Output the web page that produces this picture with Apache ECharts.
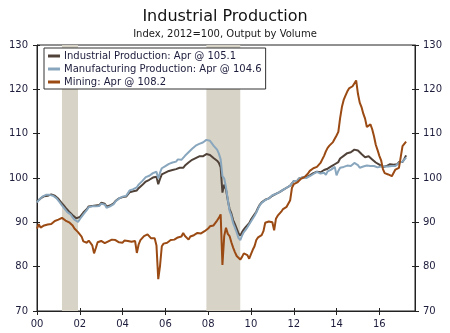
<!DOCTYPE html>
<html>
<head>
<meta charset="utf-8">
<script src="https://cdn.jsdelivr.net/npm/echarts@6/dist/echarts.min.js"></script>
<style>
  html, body { margin: 0; padding: 0; background: #ffffff; }
  #chart { width: 450px; height: 333px; }
</style>
</head>
<body>
<div id="chart"></div>
<script>
// Monthly index values, Jan 2000 through Apr 2017 (2012 = 100)
const industrialProduction = [
  94.7, 95.1, 95.4, 95.8, 95.9, 96.1, 96.0, 96.2, 96.3, 96.1, 96.0, 95.7,
  95.3, 94.8, 94.3, 93.8, 93.3, 92.9, 92.4, 92.2, 91.6, 91.2, 90.9, 90.7,
  91.2, 91.5, 92.2, 92.6, 93.0, 93.6, 93.5, 93.7, 93.9, 93.8, 94.1, 93.9,
  94.4, 94.5, 94.2, 93.6, 93.7, 93.8, 94.2, 94.3, 94.8, 95.0, 95.4, 95.4,
  95.7, 96.0, 95.8, 96.3, 96.8, 96.5, 97.0, 97.3, 97.2, 97.7, 97.9, 98.4,
  98.8, 99.2, 99.4, 99.6, 99.8, 100.1, 100.0, 100.3, 98.6, 99.8, 100.8, 101.2,
  101.2, 101.3, 101.6, 101.9, 101.8, 102.1, 102.0, 102.4, 102.3, 102.2, 102.3, 102.8,
  103.0, 103.5, 103.7, 104.1, 104.2, 104.5, 104.8, 104.9, 105.1, 104.9, 105.3, 105.4,
  105.4, 105.2, 105.0, 104.5, 104.2, 103.9, 103.4, 102.4, 96.7, 98.5, 97.4, 95.0,
  93.0, 92.0, 90.5, 89.6, 88.6, 87.5, 87.0, 87.8, 88.4, 88.9, 89.3, 89.8,
  90.6, 91.0, 91.8, 92.4, 93.3, 94.0, 94.5, 94.8, 95.1, 95.2, 95.4, 95.8,
  96.0, 95.9, 96.4, 96.4, 96.8, 97.0, 97.3, 97.6, 97.8, 98.1, 98.3, 98.7,
  99.3, 99.6, 99.4, 99.9, 100.0, 100.1, 100.3, 100.2, 100.3, 100.6, 100.8, 101.1,
  101.1, 101.4, 101.5, 101.3, 101.6, 101.8, 101.7, 102.1, 102.4, 102.6, 102.8, 103.1,
  102.7, 103.6, 104.4, 104.8, 105.0, 105.3, 105.6, 105.5, 105.8, 106.0, 106.4, 106.7,
  106.2, 105.8, 105.4, 105.0, 104.7, 104.6, 104.9, 104.6, 104.2, 103.9, 103.5, 103.2,
  103.0, 102.8, 102.5, 102.7, 102.7, 102.9, 103.1, 102.9, 103.0, 102.9, 103.1, 103.6,
  103.8, 103.6, 104.3, 105.1
];

const manufacturingProduction = [
  94.5, 95.0, 95.4, 95.8, 96.0, 96.2, 96.0, 96.2, 96.3, 96.0, 95.8, 95.4,
  94.9, 94.4, 93.8, 93.3, 92.8, 92.3, 91.9, 91.7, 91.1, 90.6, 90.3, 90.1,
  90.7, 91.1, 91.8, 92.3, 92.8, 93.4, 93.3, 93.6, 93.7, 93.6, 94.0, 93.7,
  94.2, 94.3, 94.0, 93.3, 93.4, 93.6, 94.0, 94.1, 94.7, 94.9, 95.4, 95.5,
  95.8, 96.2, 96.0, 96.6, 97.2, 96.8, 97.5, 97.9, 97.9, 98.5, 98.7, 99.3,
  99.6, 100.2, 100.4, 100.5, 100.8, 101.1, 101.0, 101.4, 99.9, 101.2, 102.2, 102.6,
  102.7, 102.8, 103.2, 103.6, 103.5, 103.8, 103.7, 104.2, 104.0, 104.1, 104.4, 105.0,
  105.2, 105.8, 106.0, 106.6, 106.9, 107.3, 107.7, 107.7, 108.1, 108.0, 108.4, 108.6,
  108.6, 108.4, 108.0, 107.3, 106.9, 106.4, 105.5, 104.2, 100.4, 99.9, 97.9, 95.2,
  92.6, 91.5, 89.8, 88.8, 87.7, 86.5, 86.0, 87.0, 87.8, 88.3, 88.9, 89.3,
  90.2, 90.5, 91.5, 92.2, 93.1, 93.9, 94.4, 94.8, 95.0, 95.2, 95.4, 95.8,
  96.1, 95.9, 96.4, 96.5, 96.8, 97.0, 97.3, 97.6, 97.8, 98.1, 98.3, 98.6,
  99.3, 99.6, 99.3, 99.9, 100.0, 100.1, 100.3, 100.0, 100.3, 100.4, 100.6, 100.9,
  100.9, 101.4, 101.3, 101.0, 101.3, 101.2, 100.7, 101.5, 101.7, 101.9, 102.2, 102.5,
  100.6, 101.6, 102.3, 102.2, 102.5, 102.4, 102.8, 102.5, 102.7, 102.9, 103.4, 103.6,
  102.9, 102.3, 102.5, 102.6, 102.6, 102.8, 103.1, 102.7, 102.6, 102.7, 102.5, 102.4,
  102.7, 102.6, 102.4, 102.6, 102.4, 102.6, 102.9, 102.7, 102.8, 102.7, 102.9, 103.4,
  103.6, 103.7, 103.7, 104.6
];

const mining = [
  88.6, 89.6, 88.8, 88.9, 89.3, 89.2, 89.5, 89.7, 89.6, 90.0, 90.3, 90.4,
  90.6, 90.9, 91.0, 90.6, 90.4, 90.6, 90.0, 89.7, 89.3, 88.6, 88.3, 87.8,
  87.3, 86.8, 85.7, 85.9, 85.4, 85.9, 85.6, 84.8, 83.0, 84.2, 85.5, 85.8,
  85.8, 86.1, 85.3, 85.0, 85.7, 85.6, 86.1, 85.7, 86.0, 85.8, 85.5, 85.6,
  85.4, 85.9, 86.1, 85.8, 85.4, 85.6, 85.3, 85.8, 83.1, 85.0, 86.0, 86.1,
  86.9, 86.8, 87.3, 87.1, 86.4, 86.2, 86.4, 84.8, 77.2, 80.2, 84.6, 85.2,
  85.6, 85.4, 85.8, 86.0, 86.4, 86.1, 86.3, 86.6, 86.9, 86.8, 87.6, 86.9,
  86.5, 86.1, 86.8, 86.7, 87.1, 87.3, 87.6, 87.2, 87.5, 87.8, 88.0, 88.4,
  88.6, 89.1, 89.0, 89.3, 89.6, 90.4, 91.0, 91.8, 80.4, 86.9, 88.8, 87.4,
  86.9, 85.5, 84.3, 83.3, 82.4, 82.0, 81.6, 82.2, 83.0, 82.9, 82.6, 81.8,
  82.0, 83.8, 84.6, 86.0, 86.6, 86.9, 87.1, 88.0, 89.9, 89.8, 90.2, 90.1,
  90.0, 88.2, 90.8, 91.5, 91.8, 92.4, 93.0, 93.4, 93.5, 93.9, 95.0, 97.8,
  98.6, 98.9, 99.0, 99.4, 99.8, 100.0, 100.2, 100.6, 101.0, 101.6, 101.9, 102.2,
  102.2, 102.5, 102.4, 103.4, 104.2, 105.0, 106.0, 106.8, 107.3, 107.0, 108.1, 108.5,
  109.6, 110.4, 113.5, 116.0, 117.6, 118.6, 119.5, 120.2, 120.4, 120.7, 120.3, 122.0,
  119.0, 117.0, 116.0, 114.5, 113.4, 111.5, 111.2, 112.1, 111.0, 109.4, 107.5, 106.3,
  105.0, 104.0, 102.0, 101.1, 100.9, 100.8, 100.6, 100.4, 100.3, 101.9, 102.0, 102.3,
  102.1, 107.2, 107.4, 108.2
];

// Recession periods shaded behind the lines
const recessions = [
  ['2001-03', '2001-12'],
  ['2007-12', '2009-07']
];

const seriesNames = [
  'Industrial Production: Apr @ 105.1',
  'Manufacturing Production: Apr @ 104.6',
  'Mining: Apr @ 108.2'
];

// Left and right value-axis scale
const yMin = 70, yMax = 130, yStep = 10;

// Month categories, Jan 2000 to Sep 2017 (axis runs a little past the data)
const months = [];
for (let y = 2000; y <= 2017; y++) {
  for (let m = 1; m <= 12; m++) {
    if (y === 2017 && m > 9) break;
    months.push(y + '-' + (m < 10 ? '0' + m : m));
  }
}
// A year label every other January: 00, 02, ... 16
const everyTwoYears = (index) => index % 24 === 0;

const FONT = '"DejaVu Sans", Verdana, sans-serif';
const INK = '#1c1c3c';
const AXIS = '#222222';

const chart = echarts.init(document.getElementById('chart'), null, { renderer: 'canvas' });

const yAxisBase = {
  type: 'value', min: yMin, max: yMax, interval: yStep,
  splitLine: { show: false }
};

chart.setOption({
  animation: false,
  backgroundColor: '#ffffff',
  title: {
    text: 'Industrial Production',
    subtext: 'Index, 2012=100, Output by Volume',
    left: 'center',
    top: 7,
    padding: 0,
    itemGap: 2,
    textStyle: { fontFamily: FONT, fontSize: 16, fontWeight: 'normal', color: '#111111', lineHeight: 19 },
    subtextStyle: { fontFamily: FONT, fontSize: 10, color: '#1a1a1a', lineHeight: 12 }
  },
  legend: {
    data: seriesNames,
    orient: 'vertical',
    left: 44,
    top: 48,
    padding: [2, 4, 1, 4],
    itemGap: 1,
    itemWidth: 12,
    itemHeight: 3,
    icon: 'rect',
    backgroundColor: '#ffffff',
    borderColor: '#333333',
    borderWidth: 1,
    borderRadius: 0,
    textStyle: { fontFamily: FONT, fontSize: 10, color: INK, lineHeight: 12, padding: [0, 0, 0, -1] }
  },
  grid: {
    left: 37, right: 35, top: 45, bottom: 22,
    show: true, borderColor: AXIS, borderWidth: 1
  },
  xAxis: [
    {
      type: 'category', data: months, boundaryGap: false, position: 'bottom',
      axisLine: { show: true, lineStyle: { color: AXIS, width: 1 } },
      axisTick: { show: true, interval: everyTwoYears, length: 4, lineStyle: { color: AXIS } },
      axisLabel: {
        interval: everyTwoYears, margin: 8,
        fontFamily: FONT, fontSize: 10, color: INK,
        formatter: (v) => v.slice(2, 4)
      },
      splitLine: { show: false }
    },
    {
      type: 'category', data: months, boundaryGap: false, position: 'bottom',
      axisLine: { show: false },
      axisTick: { show: true, inside: true, interval: everyTwoYears, length: 3, lineStyle: { color: AXIS } },
      axisLabel: { show: false },
      splitLine: { show: false }
    }
  ],
  yAxis: [
    Object.assign({}, yAxisBase, {
      position: 'left',
      axisLine: { show: true, lineStyle: { color: AXIS } },
      axisTick: { show: true, length: 4, lineStyle: { color: AXIS } },
      axisLabel: { margin: 9, fontFamily: FONT, fontSize: 10, color: INK }
    }),
    Object.assign({}, yAxisBase, {
      position: 'right',
      axisLine: { show: true, lineStyle: { color: AXIS } },
      axisTick: { show: true, length: 4, lineStyle: { color: AXIS } },
      axisLabel: { margin: 8, fontFamily: FONT, fontSize: 10, color: INK }
    }),
    Object.assign({}, yAxisBase, {
      position: 'left',
      axisLine: { show: false },
      axisTick: { show: true, inside: true, length: 3, lineStyle: { color: AXIS } },
      axisLabel: { show: false }
    }),
    Object.assign({}, yAxisBase, {
      position: 'right',
      axisLine: { show: false },
      axisTick: { show: true, inside: true, length: 3, lineStyle: { color: AXIS } },
      axisLabel: { show: false }
    })
  ],
  series: [
    {
      name: 'recessions',
      type: 'line',
      data: [],
      z: 1,
      silent: true,
      markArea: {
        silent: true,
        itemStyle: { color: '#d8d3c7', opacity: 1 },
        data: recessions.map(([a, b]) => [{ xAxis: a }, { xAxis: b }])
      }
    },
    {
      name: seriesNames[0], type: 'line', data: industrialProduction,
      showSymbol: false, z: 3,
      lineStyle: { color: '#504238', width: 2 }, itemStyle: { color: '#504238' }
    },
    {
      name: seriesNames[1], type: 'line', data: manufacturingProduction,
      showSymbol: false, z: 4,
      lineStyle: { color: '#88a6bd', width: 2 }, itemStyle: { color: '#88a6bd' }
    },
    {
      name: seriesNames[2], type: 'line', data: mining,
      showSymbol: false, z: 5,
      lineStyle: { color: '#9a4a12', width: 2 }, itemStyle: { color: '#9a4a12' }
    }
  ]
});
</script>
</body>
</html>
